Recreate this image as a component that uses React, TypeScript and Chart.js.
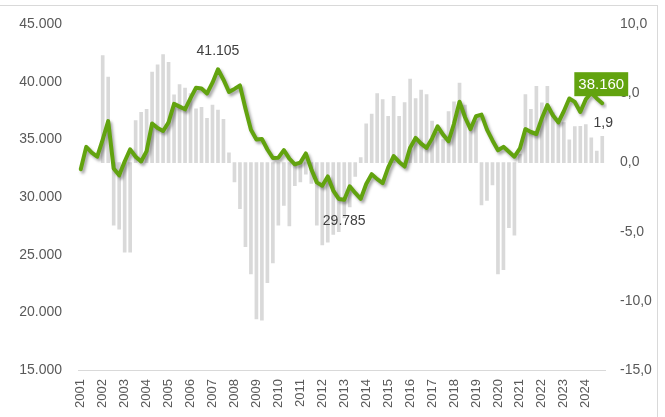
import React, { useEffect, useRef } from "react";
import { Chart, registerables } from "chart.js";

Chart.register(...registerables);

const years = [
  "2001", "2002", "2003", "2004", "2005", "2006", "2007", "2008", "2009", "2010", "2011", "2012",
  "2013", "2014", "2015", "2016", "2017", "2018", "2019", "2020", "2021", "2022", "2023", "2024",
];

// quarterly level (left axis)
const levelValues = [
  32430, 34370, 33860, 33515, 35000, 36600, 32500, 31900, 33100, 34150, 33515, 33100,
  34000, 36400, 36000, 35750, 36500, 38100, 37860, 37630, 38600, 39500, 39430, 39000,
  39943, 41105, 40200, 39143, 39400, 39700, 37700, 35850, 35000, 35050, 34143, 33400,
  33430, 34086, 33343, 32857, 33000, 33800, 32430, 31286, 31000, 31800, 30575, 29850,
  29785, 30943, 30372, 29857, 31143, 32000, 31570, 31230, 32570, 33570, 33057, 32660,
  34300, 35143, 34657, 34286, 35100, 36143, 35430, 34857, 36400, 38290, 36943, 35914,
  37030, 37170, 35870, 34930, 34070, 34370, 33940, 33515, 34230, 35914, 35660, 35486,
  36860, 38000, 37110, 36500, 37460, 38572, 38270, 37400, 38490, 39060, 38570, 38160,
];

// year-on-year change, % (right axis)
const changeValues = [
  null, null, null, null, 7.74, 6.19, -4.52, -4.81, -6.48, -6.48, 3.05, 3.64,
  3.86, 6.55, 7.07, 7.81, 7.26, 4.9, 5.64, 5.4, 5.0, 3.9, 4.0, 3.2,
  4.17, 3.8, 3.14, 0.71, -1.4, -3.33, -6.07, -8.05, -11.3, -11.4, -8.69, -7.26,
  -4.52, -3.1, -4.57, -1.67, -1.4, -0.83, -1.5, -4.52, -5.95, -5.76, -5.19, -5.0,
  -4.0, -3.2, -1.0, 0.36, 2.8, 3.52, 5.0, 4.57, 3.35, 4.8, 3.35, 4.35,
  6.05, 4.64, 5.24, 4.93, 3.0, 2.2, 1.67, 3.69, 4.4, 5.76, 4.17, 2.43,
  3.0, -3.05, -2.74, -1.62, -8.05, -7.74, -4.71, -5.24, 0.6, 4.93, 3.86, 5.52,
  4.33, 5.52, 3.6, 3.05, 2.9, 1.65, 2.6, 2.62, 2.75, 1.79, 0.83, 1.9,
];

const quarterLabels: string[] = [];
years.forEach((y) => {
  for (let q = 1; q <= 4; q++) quarterLabels.push(y + " Q" + q);
});

const GREEN = "#62a30f";
const GREY_BAR = "#d9d9d9";
const TEXT = "#595959";
const FONT = "'Liberation Sans', Arial, sans-serif";

const fmtThousands = (v: number) => {
  const s = Math.round(v).toString();
  return s.replace(/\B(?=(\d{3})+(?!\d))/g, ".");
};
const fmtComma = (v: number) => v.toFixed(1).replace(".", ",");

const shadowPlugin = {
  id: "lineShadow",
  beforeDatasetDraw(chart: any, args: any) {
    if (args.index === 1) {
      const ctx = chart.ctx;
      ctx.save();
      ctx.shadowColor = "rgba(0,0,0,0.35)";
      ctx.shadowBlur = 3;
      ctx.shadowOffsetX = 2;
      ctx.shadowOffsetY = 2.5;
    }
  },
  afterDatasetDraw(chart: any, args: any) {
    if (args.index === 1) chart.ctx.restore();
  },
};

const labelPlugin = {
  id: "valueLabels",
  afterDatasetsDraw(chart: any) {
    const ctx = chart.ctx;
    const lineMeta = chart.getDatasetMeta(1);
    const barMeta = chart.getDatasetMeta(0);
    let maxI = 0;
    let minI = 0;
    levelValues.forEach((v, i) => {
      if (v > levelValues[maxI]) maxI = i;
      if (v < levelValues[minI]) minI = i;
    });
    const lastI = levelValues.length - 1;
    ctx.save();
    ctx.font = "14px " + FONT;
    ctx.textAlign = "center";
    ctx.textBaseline = "middle";
    ctx.fillStyle = "#404040";
    const pMax = lineMeta.data[maxI];
    ctx.fillText(fmtThousands(levelValues[maxI]), pMax.x, pMax.y - 18);
    const pMin = lineMeta.data[minI];
    ctx.fillText(fmtThousands(levelValues[minI]), pMin.x, pMin.y + 21);

    const lastBar = barMeta.data[lastI];
    const lastChange = changeValues[lastI] as number;
    ctx.fillText(fmtComma(lastChange), lastBar.x + 1, lastBar.y - 13);

    const pLast = lineMeta.data[lastI];
    const txt = fmtThousands(levelValues[lastI]);
    ctx.font = "15px " + FONT;
    const w = ctx.measureText(txt).width + 8;
    const h = 24;
    const cx = pLast.x - 1;
    const cy = pLast.y - 19;
    ctx.fillStyle = GREEN;
    ctx.fillRect(cx - w / 2, cy - h / 2, w, h);
    ctx.fillStyle = "#ffffff";
    ctx.fillText(txt, cx, cy + 1);
    ctx.restore();
  },
};

export default function App() {
  const canvasRef = useRef<HTMLCanvasElement | null>(null);

  useEffect(() => {
    const canvas = canvasRef.current;
    if (!canvas) return;
    const chart = new Chart(canvas, {
      type: "bar",
      data: {
        labels: quarterLabels,
        datasets: [
          {
            type: "bar",
            data: changeValues as any,
            yAxisID: "y1",
            backgroundColor: GREY_BAR,
            barThickness: 3,
            order: 2,
          } as any,
          {
            type: "line",
            data: levelValues,
            yAxisID: "y",
            borderColor: GREEN,
            borderWidth: 4,
            pointRadius: 0,
            tension: 0,
            borderJoinStyle: "round",
            borderCapStyle: "round",
            order: 1,
          } as any,
        ],
      },
      options: {
        responsive: false,
        animation: false,
        devicePixelRatio: 1,
        layout: { padding: { top: 20, left: 0, right: 0, bottom: 0 } },
        plugins: {
          legend: { display: false },
          tooltip: { enabled: false },
        },
        scales: {
          x: {
            type: "category",
            offset: true,
            grid: { display: false, drawTicks: false },
            border: { display: true, color: GREY_BAR, width: 1 },
            ticks: {
              autoSkip: false,
              maxRotation: 90,
              minRotation: 90,
              padding: 9,
              color: TEXT,
              font: { family: FONT, size: 13 },
              callback: (_v: any, idx: number) => (idx % 4 === 0 ? years[idx / 4] : ""),
            },
            afterFit: (scale: any) => {
              scale.height = 47;
            },
          },
          y: {
            position: "left",
            min: 15000,
            max: 45000,
            grid: { display: false, drawTicks: false },
            border: { display: false },
            ticks: {
              stepSize: 5000,
              padding: 16,
              color: TEXT,
              font: { family: FONT, size: 14 },
              callback: (v: any) => fmtThousands(Number(v)),
            },
            afterFit: (scale: any) => {
              scale.width = 78;
            },
          },
          y1: {
            position: "right",
            min: -15,
            max: 10,
            grid: { display: false, drawTicks: false },
            border: { display: false },
            ticks: {
              stepSize: 5,
              padding: 15,
              color: TEXT,
              font: { family: FONT, size: 14 },
              callback: (v: any) => fmtComma(Number(v)),
            },
            afterFit: (scale: any) => {
              scale.width = 60;
            },
          },
        },
      } as any,
      plugins: [shadowPlugin, labelPlugin],
    });
    return () => chart.destroy();
  }, []);

  return (
    <div style={{ position: "fixed", left: 0, top: 0, width: 665, height: 417, overflow: "hidden", background: "#fff" }}>
      <div
        style={{
          position: "absolute",
          left: -2,
          top: 5,
          width: 660,
          height: 430,
          border: "1px solid #d9d9d9",
          boxSizing: "border-box",
        }}
      />
      <canvas
        ref={canvasRef}
        width={665}
        height={417}
        style={{ position: "absolute", left: 0, top: 0, width: 665, height: 417 }}
      />
    </div>
  );
}
